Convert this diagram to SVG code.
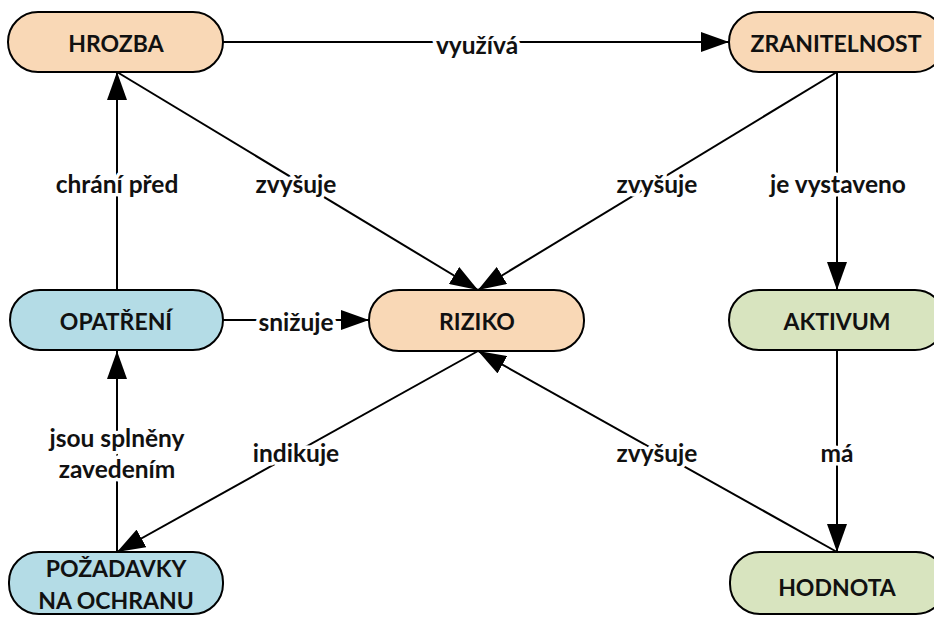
<svg xmlns="http://www.w3.org/2000/svg" width="934" height="617" viewBox="0 0 934 617">
<defs>
<marker id="arr" markerUnits="userSpaceOnUse" markerWidth="28" markerHeight="20" refX="28" refY="10" orient="auto">
<path d="M0,0 L28,10 L0,20 z" fill="#000"/>
</marker>
<style>
.node rect{stroke:#000;stroke-width:2}
.peach{fill:#F9D8B6}
.blue{fill:#B4DCE6}
.green{fill:#D8E4BF}
.nt{font-family:Lato,"Liberation Sans",sans-serif;font-weight:bold;font-size:23px;fill:#111;text-anchor:middle;dominant-baseline:central}
.ln{stroke:#000;stroke-width:2;fill:none;marker-end:url(#arr)}
.lb{font-family:Lato,"Liberation Sans",sans-serif;font-weight:bold;font-size:24.5px;fill:#111;text-anchor:middle;dominant-baseline:central;stroke:#fff;stroke-width:7;paint-order:stroke;stroke-linejoin:round}
</style>
</defs>
<rect width="934" height="617" fill="#fff"/>
<g id="connectors">
<line class="ln" x1="223" y1="42" x2="729" y2="42"/>
<line class="ln" x1="117" y1="290" x2="117" y2="72"/>
<line class="ln" x1="117" y1="72" x2="478" y2="290"/>
<line class="ln" x1="837" y1="72" x2="478" y2="290"/>
<line class="ln" x1="837" y1="72" x2="837" y2="290"/>
<line class="ln" x1="223" y1="320" x2="369" y2="320"/>
<line class="ln" x1="478" y1="351" x2="117" y2="552"/>
<line class="ln" x1="117" y1="552" x2="117" y2="351"/>
<line class="ln" x1="837" y1="552" x2="478" y2="351"/>
<line class="ln" x1="837" y1="350" x2="837" y2="552"/>
<text class="lb" x="477" y="44">využívá</text>
<text class="lb" x="117" y="183">chrání před</text>
<text class="lb" x="296" y="183">zvyšuje</text>
<text class="lb" x="657" y="183">zvyšuje</text>
<text class="lb" x="838" y="183">je vystaveno</text>
<text class="lb" x="296" y="321">snižuje</text>
<text class="lb" x="296" y="452">indikuje</text>
<text class="lb" x="117" y="437">jsou splněny</text>
<text class="lb" x="117" y="468">zavedením</text>
<text class="lb" x="657" y="452">zvyšuje</text>
<text class="lb" x="837" y="452">má</text>
</g>
<g id="hrozba" class="node"><rect class="peach" x="8" y="12" width="215" height="60" rx="30"/><text class="nt" x="116" y="43">HROZBA</text></g>
<g id="zranitelnost" class="node"><rect class="peach" x="729" y="12" width="216" height="60" rx="30"/><text class="nt" x="836" y="43">ZRANITELNOST</text></g>
<g id="opatreni" class="node"><rect class="blue" x="10" y="290" width="213" height="60" rx="30"/><text class="nt" x="116" y="321">OPATŘENÍ</text></g>
<g id="riziko" class="node"><rect class="peach" x="369" y="290" width="215" height="61" rx="30"/><text class="nt" x="477" y="321">RIZIKO</text></g>
<g id="aktivum" class="node"><rect class="green" x="729" y="290" width="216" height="60" rx="30"/><text class="nt" x="837" y="321">AKTIVUM</text></g>
<g id="pozadavky" class="node"><rect class="blue" x="9" y="552" width="214" height="62" rx="30"/><text class="nt" x="116" y="568">POŽADAVKY</text><text class="nt" x="116" y="600">NA OCHRANU</text></g>
<g id="hodnota" class="node"><rect class="green" x="730" y="552" width="216" height="62" rx="30"/><text class="nt" x="837" y="587">HODNOTA</text></g>
</svg>
